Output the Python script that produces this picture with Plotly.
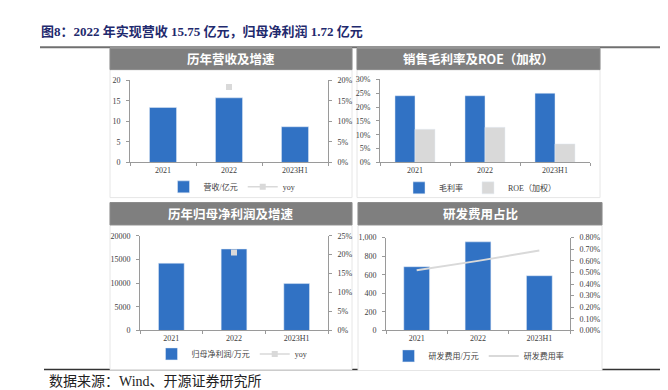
import plotly.graph_objects as go

# ---------------- data ----------------
categories = ["2021", "2022", "2023H1"]

revenue = [13.4, 15.75, 8.7]          # 营收/亿元
revenue_yoy = [None, 0.184, None]     # yoy

gross_margin = [0.241, 0.241, 0.250]  # 毛利率
roe = [0.120, 0.127, 0.067]           # ROE（加权）

net_profit = [14200, 17200, 9900]     # 归母净利润/万元
net_profit_yoy = [None, 0.206, None]  # yoy

rd_expense = [687, 955, 590]          # 研发费用/万元
rd_ratio = [0.0052, 0.0060, 0.0069]   # 研发费用率

title_text = "图8：2022 年实现营收 15.75 亿元，归母净利润 1.72 亿元"
panel_titles = ["历年营收及增速", "销售毛利率及ROE（加权）", "历年归母净利润及增速", "研发费用占比"]
source_text = "数据来源：Wind、开源证券研究所"

# ---------------- style ----------------
W, H = 668, 390
BLUE = "#3172C4"
LGRAY = "#D9D9D9"
HEADER = "#7F7F7F"
AXIS = "#9A9A9A"
TXT = "#404040"
SERIF = "Liberation Serif, Noto Sans CJK SC, serif"
SANS = "Noto Sans CJK SC, Noto Sans, sans-serif"


def X(px):
    return px / W


def Y(py):
    return 1 - py / H


fig = go.Figure()

# panel 1
fig.add_trace(go.Bar(x=categories, y=revenue, name="营收/亿元", marker_color=BLUE,
                     width=0.41, xaxis="x", yaxis="y", legend="legend"))
fig.add_trace(go.Scatter(x=categories, y=revenue_yoy, name="yoy", mode="lines+markers",
                         line=dict(color=LGRAY, width=1.5),
                         marker=dict(symbol="square", size=6, color=LGRAY),
                         xaxis="x", yaxis="y2", legend="legend"))
# panel 2
fig.add_trace(go.Bar(x=categories, y=gross_margin, name="毛利率", marker_color=BLUE,
                     width=0.286, offset=-0.286, xaxis="x2", yaxis="y3", legend="legend2"))
fig.add_trace(go.Bar(x=categories, y=roe, name="ROE（加权）", marker_color=LGRAY,
                     width=0.286, offset=0, xaxis="x2", yaxis="y3", legend="legend2"))
# panel 3
fig.add_trace(go.Bar(x=categories, y=net_profit, name="归母净利润/万元", marker_color=BLUE,
                     width=0.41, xaxis="x3", yaxis="y4", legend="legend3"))
fig.add_trace(go.Scatter(x=categories, y=net_profit_yoy, name="yoy", mode="lines+markers",
                         line=dict(color=LGRAY, width=1.5),
                         marker=dict(symbol="square", size=6, color=LGRAY),
                         xaxis="x3", yaxis="y5", legend="legend3"))
# panel 4
fig.add_trace(go.Bar(x=categories, y=rd_expense, name="研发费用/万元", marker_color=BLUE,
                     width=0.42, xaxis="x4", yaxis="y6", legend="legend4"))
fig.add_trace(go.Scatter(x=categories, y=rd_ratio, name="研发费用率", mode="lines",
                         line=dict(color=LGRAY, width=2),
                         xaxis="x4", yaxis="y7", legend="legend4"))

tickfont = dict(family=SERIF, size=8, color=TXT)


def xax(x0, x1, anchor):
    return dict(domain=[X(x0), X(x1)], anchor=anchor, type="category",
                range=[-0.5, 2.5], showline=True, linecolor=AXIS, linewidth=1,
                ticks="outside", tickson="boundaries", ticklen=3, tickcolor=AXIS,
                showgrid=False, zeroline=False, tickfont=tickfont, fixedrange=True)


def yax(y0, y1, anchor, rng, dtick, fmt, side="left", overlay=None):
    d = dict(domain=[Y(y1), Y(y0)], anchor=anchor, range=rng, dtick=dtick, tick0=0,
             tickformat=fmt, side=side, showline=True, linecolor=AXIS, linewidth=1,
             ticks="outside", ticklen=3, tickcolor=AXIS, showgrid=False, zeroline=False,
             tickfont=tickfont, ticklabelstandoff=4, fixedrange=True)
    if overlay:
        d["overlaying"] = overlay
    return d


fig.update_layout(
    width=W, height=H, margin=dict(l=0, r=0, t=0, b=0),
    paper_bgcolor="white", plot_bgcolor="rgba(0,0,0,0)",
    barmode="overlay", showlegend=True,
    xaxis=xax(122, 320, "y"),
    yaxis=yax(70, 154, "x", [0, 20], 5, "d"),
    yaxis2=yax(70, 154, "x", [0, 0.20], 0.05, ".0%", side="right", overlay="y"),
    xaxis2=xax(372, 582, "y3"),
    yaxis3=yax(69, 154, "x2", [0, 0.30], 0.05, ".0%"),
    xaxis3=xax(132, 320, "y4"),
    yaxis4=yax(229, 326, "x3", [0, 20000], 5000, "d"),
    yaxis5=yax(229, 326, "x3", [0, 0.25], 0.05, ".0%", side="right", overlay="y4"),
    xaxis4=xax(378, 562, "y6"),
    yaxis6=yax(231, 326, "x4", [0, 1000], 200, ",d"),
    yaxis7=yax(231, 326, "x4", [0, 0.008], 0.001, ".2%", side="right", overlay="y6"),
)

legend_common = dict(orientation="h", xanchor="center", yanchor="middle",
                     font=dict(family=SERIF, size=8, color=TXT),
                     bgcolor="rgba(0,0,0,0)", itemwidth=30, tracegroupgap=0)
fig.update_layout(
    legend=dict(x=X(224), y=Y(179), **legend_common),
    legend2=dict(x=X(472), y=Y(180), **legend_common),
    legend3=dict(x=X(224), y=Y(350), **legend_common),
    legend4=dict(x=X(471), y=Y(352), **legend_common),
)

shapes = []
panels = [(102, 344, 37, 190), (349, 592, 37, 190), (102, 344, 195, 366), (350, 594, 195, 367)]
# horizontal rules (behind panels)
shapes.append(dict(type="line", xref="paper", yref="paper", x0=X(32), x1=X(654), y0=Y(36), y1=Y(36),
                   line=dict(color="#707070", width=2), layer="below"))
shapes.append(dict(type="line", xref="paper", yref="paper", x0=X(36), x1=X(657), y0=Y(366), y1=Y(366),
                   line=dict(color="#333333", width=1.5), layer="below"))
for (x0, x1, y0, y1) in panels:
    shapes.append(dict(type="rect", xref="paper", yref="paper", x0=X(x0), x1=X(x1), y0=Y(y1), y1=Y(y0),
                       fillcolor="white", line=dict(color="#E6E6E6", width=1), layer="below"))
    shapes.append(dict(type="rect", xref="paper", yref="paper", x0=X(x0), x1=X(x1), y0=Y(59 if y0 < 100 else 218),
                       y1=Y(y0), fillcolor=HEADER, line=dict(color="#8C8C8C", width=1), layer="below"))
fig.update_layout(shapes=shapes)

annotations = []
for (x0, x1, y0, y1), t in zip(panels, panel_titles):
    annotations.append(dict(text="<b>" + t + "</b>", xref="paper", yref="paper",
                            x=X((x0 + x1) / 2), y=Y(y0 + 11), xanchor="center", yanchor="middle",
                            showarrow=False, font=dict(family=SANS, size=12.5, color="white")))
annotations.append(dict(text="<b>" + title_text + "</b>", xref="paper", yref="paper",
                        x=X(31), y=Y(20), xanchor="left", yanchor="middle", showarrow=False,
                        font=dict(family=SERIF, size=13, color="#1F2A6E")))
annotations.append(dict(text=source_text, xref="paper", yref="paper",
                        x=X(39), y=Y(378), xanchor="left", yanchor="middle", showarrow=False,
                        font=dict(family=SERIF, size=14, color="#222222")))
fig.update_layout(annotations=annotations)

fig.write_html("out.html")
